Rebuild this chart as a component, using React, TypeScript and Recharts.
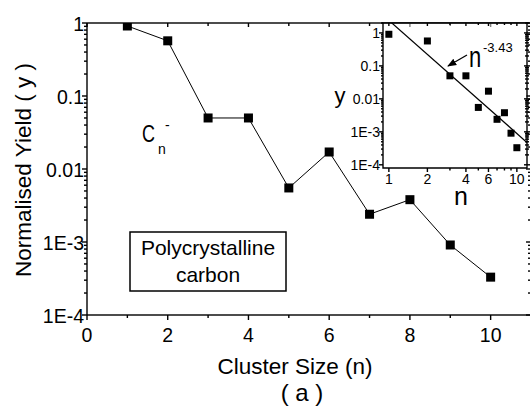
import { LineChart, ComposedChart, Line, XAxis, YAxis, ReferenceArea } from "recharts";

// Normalised yield of C_n^- clusters against cluster size
const clusterSize = [1, 2, 3, 4, 5, 6, 7, 8, 9, 10];
const yieldValues = [0.91, 0.57, 0.05, 0.05, 0.0055, 0.0171, 0.0024, 0.0038, 0.00091, 0.00033];

// main axes
const mainXTicks = [0, 1, 2, 3, 4, 5, 6, 7, 8, 9, 10, 11];
const mainXLabels = [0, 2, 4, 6, 8, 10];
const decades = [1e-4, 1e-3, 0.01, 0.1, 1];
const decadeLabels = ["1E-4", "1E-3", "0.01", "0.1", "1"];

// inset (log-log)
const insetXTicks = [1, 2, 3, 4, 5, 6, 7, 8, 9, 10];
const insetXLabels = [1, 2, 4, 6, 10];

// power-law fit y = A * n^k
const fitExponent = -3.43;
const fitPrefactor = 2.4;
const fitRange = [1, 12];

const FONT = "'Liberation Sans', Arial, sans-serif";

// plot boxes, in each chart's own pixels
const MAIN = { w: 541, h: 408, left: 87, top: 23, right: 531, bottom: 315 };
const INSET = { x: 330, w: 210, h: 220, left: 53, top: 23, right: 197, bottom: 168 };
const LW = 1.4; // axis line weight

const rows = clusterSize.map((n, i) => ({ n, y: yieldValues[i] }));
const fitRows = fitRange.map((n) => ({ n, y: fitPrefactor * Math.pow(n, fitExponent) }));

const logTicks = (lo: number, hi: number) =>
  decades
    .flatMap((d) => [1, 2, 3, 4, 5, 6, 7, 8, 9].map((m) => m * d))
    .filter((v) => v >= lo && v <= hi);

const mainYTicks = logTicks(1e-4, 1);
const insetYTicks = logTicks(8e-5, 2);

const decadeLabel = (v: number) => {
  const i = decades.indexOf(v);
  return i >= 0 ? decadeLabels[i] : null;
};
const isDecade = (v: number) => decades.includes(v);

type Mark = { at?: number; span: [number, number]; major: number; minor: number };
type TickOpts = {
  vertical: boolean; // axis runs up/down, so tick marks are horizontal
  near: Mark; // ticks on this axis
  far: Mark; // matching ticks on the opposite side of the frame
  edges?: number[]; // values where a frame side sits
  isMajor: (v: number) => boolean;
  label?: (v: number) => string | null;
  fontSize?: number;
  dx?: number;
  dy?: number;
  anchor?: "start" | "middle" | "end";
};

// a straight mark drawn as a thin filled bar, across the axis from p to q
const bar = (vertical: boolean, pos: number, p: number, q: number, key: string) => {
  const lo = Math.min(p, q);
  const len = Math.abs(q - p);
  return vertical ? (
    <rect key={key} x={lo} y={pos - LW / 2} width={len} height={LW} fill="#000" />
  ) : (
    <rect key={key} x={pos - LW / 2} y={lo} width={LW} height={len} fill="#000" />
  );
};

function makeTick(o: TickOpts) {
  return (p: any) => {
    const x = Number(p.x);
    const y = Number(p.y);
    const v = p.payload.value;
    const big = o.isMajor(v);
    const pos = o.vertical ? y : x;
    const base = o.vertical ? x : y;
    const farAt = o.far.at as number;
    const seg = (m: Mark, b0: number, key: string) => {
      const L = big ? m.major : m.minor;
      return bar(o.vertical, pos, b0 + m.span[0] * L, b0 + m.span[1] * L, key);
    };
    const text = big && o.label ? o.label(v) : null;
    return (
      <g>
        {seg(o.near, base, "near")}
        {seg(o.far, farAt, "far")}
        {o.edges && o.edges.includes(v) && bar(o.vertical, pos, base, farAt, "edge")}
        {text !== null && (
          <text
            x={x + (o.dx || 0)}
            y={y + (o.dy || 0)}
            textAnchor={o.anchor || "middle"}
            fontSize={o.fontSize}
            fontFamily={FONT}
            fill="#000"
          >
            {text}
          </text>
        )}
      </g>
    );
  };
}

const mainBottomTick = makeTick({
  vertical: false,
  near: { span: [0, 1], major: 5, minor: 3 },
  far: { at: MAIN.top, span: [0, 1], major: 4, minor: 3 },
  edges: [0, 11],
  isMajor: (v) => mainXLabels.includes(v), label: (v) => String(v),
  fontSize: 19.5, dy: 27, anchor: "middle",
});
const mainLeftTick = makeTick({
  vertical: true,
  near: { span: [0, -1], major: 5, minor: 3 },
  far: { at: MAIN.right, span: [0, -1], major: 5, minor: 3 },
  edges: [1e-4, 1],
  isMajor: isDecade, label: decadeLabel,
  fontSize: 19.5, dx: -3, dy: 7.5, anchor: "end",
});
const insetBottomTick = makeTick({
  vertical: false,
  near: { span: [0, 1], major: 4, minor: 2.5 },
  far: { at: INSET.top, span: [0, 1], major: 3, minor: 2 },
  isMajor: (v) => insetXLabels.includes(v), label: (v) => String(v),
  fontSize: 14, dy: 16, anchor: "middle",
});
const insetLeftTick = makeTick({
  vertical: true,
  near: { span: [0, -1], major: 4, minor: 2 },
  far: { at: INSET.right, span: [-1, 1], major: 3, minor: 2 },
  isMajor: isDecade, label: decadeLabel,
  fontSize: 14, dx: -3, dy: 5, anchor: "end",
});

const square = (size: number) => (p: any) => (
  <rect
    key={`sq-${p.index}`}
    x={p.cx - size / 2}
    y={p.cy - size / 2}
    width={size}
    height={size}
    fill="#000"
  />
);

const overlay = { position: "absolute" as const, left: 0, top: 0, pointerEvents: "none" as const };

export default function App() {
  return (
    <div
      style={{
        position: "absolute", left: 0, top: 0, width: 530, height: 408,
        overflow: "hidden", background: "#fff",
      }}
    >
      <LineChart
        width={MAIN.w} height={MAIN.h} data={rows}
        margin={{ top: MAIN.top, right: MAIN.w - MAIN.right, left: 0, bottom: 0 }}
      >
        <XAxis
          dataKey="n" type="number" domain={[0, 11]} ticks={mainXTicks} interval={0}
          height={MAIN.h - MAIN.bottom} tickSize={0} tickMargin={0} tickLine={false}
          axisLine={false} tick={mainBottomTick}
        />
        <YAxis
          type="number" scale="log" domain={[1e-4, 1]} ticks={mainYTicks} interval={0}
          allowDataOverflow width={MAIN.left} tickSize={0} tickMargin={0} tickLine={false}
          axisLine={false} tick={mainLeftTick}
        />
        <Line
          dataKey="y" stroke="#000" strokeWidth={1} dot={square(9)}
          isAnimationActive={false}
        />
      </LineChart>

      <svg width={530} height={408} style={overlay} fontFamily={FONT}>
        <text x={31} y={170} transform="rotate(-90 31 170)" textAnchor="middle" fontSize={22.5}>
          Normalised Yield ( y )
        </text>
        <text x={295} y={374} textAnchor="middle" fontSize={22.5}>Cluster Size (n)</text>
        <text x={302} y={401} textAnchor="middle" fontSize={24}>( a )</text>

        <text transform="translate(142 142) scale(1 1.32)" fontSize={18}>C</text>
        <text x={158} y={154} fontSize={14}>n</text>
        <text x={165} y={130} fontSize={14}>-</text>

        <rect x={130} y={232} width={156} height={59} fill="#fff" stroke="#000" strokeWidth={1.5} />
        <text x={208} y={255} textAnchor="middle" fontSize={21}>Polycrystalline</text>
        <text x={208} y={282} textAnchor="middle" fontSize={21}>carbon</text>
      </svg>

      <div style={{ position: "absolute", left: INSET.x, top: 0 }}>
        <ComposedChart
          width={INSET.w} height={INSET.h}
          margin={{ top: INSET.top, right: INSET.w - INSET.right, left: 0, bottom: 0 }}
        >
          <ReferenceArea x1={0.9} x2={12} y1={8e-5} y2={2} fill="#fff" stroke="#000" strokeWidth={1.4} />
          <XAxis
            dataKey="n" type="number" scale="log" domain={[0.9, 12]} ticks={insetXTicks} interval={0}
            allowDataOverflow height={INSET.h - INSET.bottom} tickSize={0} tickMargin={0} tickLine={false}
            axisLine={false} tick={insetBottomTick}
          />
          <YAxis
            type="number" scale="log" domain={[8e-5, 2]} ticks={insetYTicks} interval={0}
            allowDataOverflow width={INSET.left} tickSize={0} tickMargin={0} tickLine={false}
            axisLine={false} tick={insetLeftTick}
          />
          <Line
            data={fitRows} dataKey="y" stroke="#000" strokeWidth={1.2} dot={false}
            isAnimationActive={false}
          />
          <Line
            data={rows} dataKey="y" stroke="none" dot={square(7)}
            isAnimationActive={false}
          />
        </ComposedChart>
      </div>

      <svg width={530} height={408} style={overlay} fontFamily={FONT}>
        <defs>
          <marker id="head" viewBox="0 0 10 10" refX="9" refY="5" markerWidth="7" markerHeight="7" orient="auto">
            <path d="M0,1 L10,5 L0,9 z" fill="#000" />
          </marker>
        </defs>
        <text x={340} y={103} textAnchor="middle" fontSize={22}>y</text>
        <text x={461} y={205} textAnchor="middle" fontSize={25}>n</text>

        <text transform="translate(469 67) scale(1 1.3)" fontSize={22}>n</text>
        <text x={483} y={52} fontSize={13}>-3.43</text>
        <line x1={467} y1={55} x2={448} y2={66} stroke="#000" strokeWidth={1.3} markerEnd="url(#head)" />
      </svg>
    </div>
  );
}
